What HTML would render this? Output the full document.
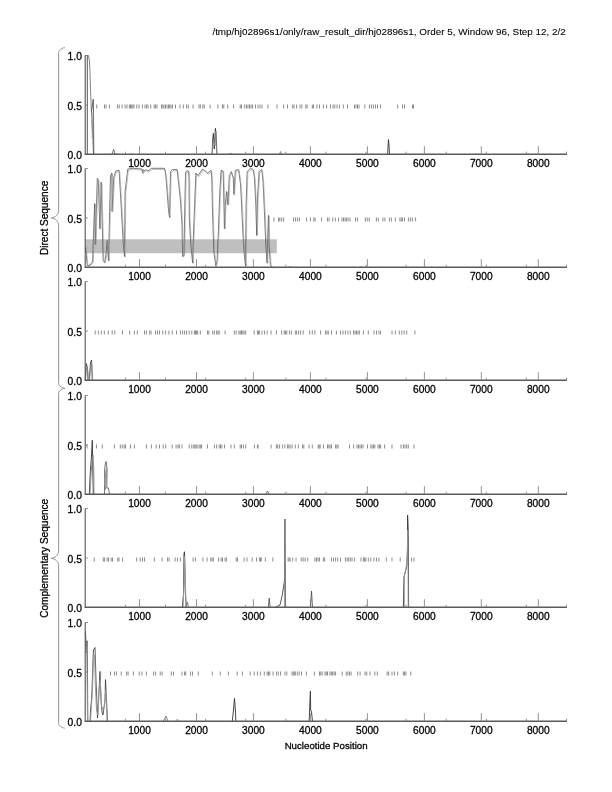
<!DOCTYPE html><html><head><meta charset="utf-8"><style>html,body{margin:0;padding:0;background:#fff;width:612px;height:792px;overflow:hidden}svg{display:block;will-change:transform}text{font-family:"Liberation Sans",sans-serif;fill:#000;stroke:#000;stroke-width:0.28px}</style></head><body>
<svg width="612" height="792" viewBox="0 0 612 792">
<rect width="612" height="792" fill="#fff"/>
<text x="212.4" y="34.9" style="stroke-width:0.08px" font-size="8.8" textLength="353.4" lengthAdjust="spacingAndGlyphs" fill="#000">/tmp/hj02896s1/only/raw_result_dir/hj02896s1, Order 5, Window 96, Step 12, 2/2</text>
<rect x="85" y="239.3" width="191.8" height="13.9" fill="#bfbfbf"/>
<path d="M85.2 55.5 87.3 55.5 87.3 154.5" fill="none" stroke="#444" stroke-width="0.9" stroke-linejoin="round" opacity="1"/>
<path d="M85.2 55.5 88.5 55.5 89.3 60.0 90.0 72.0 90.6 91.8 91.3 109.0 92.0 121.0 92.6 134.0 93.5 154.5" fill="none" stroke="#777" stroke-width="0.9" stroke-linejoin="round" opacity="1"/>
<path d="M91.4 112.0 92.3 106.0 93.3 99.0 93.5 115.0 93.8 154.5" fill="none" stroke="#555" stroke-width="0.9" stroke-linejoin="round" opacity="1"/>
<path d="M91.8 120.0 92.4 138.0 93.0 112.0" fill="none" stroke="#999" stroke-width="0.9" stroke-linejoin="round" opacity="1"/>
<path d="M110.0 154.5 112.3 154.0 113.0 151.0 113.6 149.3 114.3 151.0 114.9 154.0 120.0 154.5" fill="none" stroke="#555" stroke-width="0.8" stroke-linejoin="round" opacity="1"/>
<path d="M210.0 154.5 212.1 154.5 212.6 140.0 213.4 133.3 214.3 149.0 215.4 128.3 216.4 140.0 216.9 154.5 220.0 154.5" fill="none" stroke="#333" stroke-width="0.9" stroke-linejoin="round" opacity="1"/>
<path d="M212.4 154.5 213.0 139.0 214.0 141.0 215.0 146.0 216.0 131.0 216.6 154.5" fill="none" stroke="#888" stroke-width="0.8" stroke-linejoin="round" opacity="1"/>
<path d="M228.0 154.5 230.7 153.3 233.0 154.5" fill="none" stroke="#666" stroke-width="0.7" stroke-linejoin="round" opacity="1"/>
<path d="M278.0 154.5 279.5 154.5 280.5 151.5 281.5 154.5" fill="none" stroke="#666" stroke-width="0.7" stroke-linejoin="round" opacity="1"/>
<path d="M385.0 154.5 387.6 154.5 388.1 145.0 388.5 139.5 389.0 145.0 389.5 154.5" fill="none" stroke="#333" stroke-width="0.9" stroke-linejoin="round" opacity="1"/>
<path d="M85.6 247.2 87.3 265.8 90.0 265.0 92.6 261.8 94.6 203.5 95.3 244.6 97.3 178.3 98.3 179.6 99.9 228.7 101.2 182.2 103.2 260.5 104.6 262.5 105.9 255.2 107.2 240.6 108.5 260.5 110.5 175.6 111.9 173.0 112.1 211.4 113.8 177.0 115.8 171.0 119.1 170.3 121.1 204.8 123.1 240.6 124.5 256.5 125.1 191.5 127.8 169.0 133.7 168.3 141.9 169.0 142.6 173.0 143.3 169.6 144.6 171.0 146.0 169.5 147.5 171.0 149.9 169.8 151.2 168.3 164.5 168.3 165.8 175.6 167.1 191.5 168.5 210.0 169.5 217.4 170.5 171.6 172.4 169.6 177.1 169.6 178.7 183.6 180.6 202.0 182.0 224.7 182.6 256.5 184.0 255.2 184.6 218.0 185.5 173.0 186.6 171.0 188.6 171.0 189.0 178.3 189.3 218.0 190.6 242.0 192.6 263.0 193.2 242.0 194.6 204.8 195.9 173.0 197.9 175.6 199.9 173.0 202.5 169.0 205.2 171.0 207.8 173.0 211.1 170.3 211.8 178.3 212.5 211.4 213.8 251.2 215.8 265.8 217.1 260.5 218.4 231.3 219.8 191.5 221.1 170.3 223.1 171.0 223.7 191.5 224.4 228.7 225.3 204.8 226.6 191.5 228.0 204.8 229.3 175.6 231.3 171.6 233.3 178.3 233.9 194.2 235.3 170.3 238.6 169.6 240.6 184.9 241.9 211.4 243.2 238.0 244.5 257.8 245.6 265.8 246.1 204.8 247.2 171.6 250.5 168.3 253.2 169.6 254.5 178.3 255.8 204.8 256.7 235.3 257.5 198.2 259.1 171.6 261.8 169.6 263.1 182.2 264.4 211.4 265.8 244.6 267.1 263.1 268.4 215.4 269.1 244.6 270.4 264.5 271.7 267.1 274.0 267.5" fill="none" stroke="#444" stroke-width="0.7" stroke-linejoin="round" opacity="1"/>
<path d="M86.3 247.7 88.0 266.3 90.7 265.5 93.3 262.3 95.3 204.0 96.0 245.1 98.0 179.5 99.0 180.8 100.6 229.2 101.9 183.4 103.9 261.0 105.3 263.0 106.6 255.7 107.9 241.1 109.2 261.0 111.2 176.8 112.6 174.2 112.8 211.9 114.5 178.2 116.5 172.2 119.8 171.5 121.8 205.3 123.8 241.1 125.2 257.0 125.8 192.7 128.5 170.2 134.4 169.5 142.6 170.2 143.3 174.2 144.0 170.8 145.3 172.2 146.7 170.7 148.2 172.2 150.6 171.0 151.9 169.5 165.2 169.5 166.5 176.8 167.8 192.7 169.2 210.5 170.2 217.9 171.2 172.8 173.1 170.8 177.8 170.8 179.4 184.8 181.3 202.5 182.7 225.2 183.3 257.0 184.7 255.7 185.3 218.5 186.2 174.2 187.3 172.2 189.3 172.2 189.7 179.5 190.0 218.5 191.3 242.5 193.3 263.5 193.9 242.5 195.3 205.3 196.6 174.2 198.6 176.8 200.6 174.2 203.2 170.2 205.9 172.2 208.5 174.2 211.8 171.5 212.5 179.5 213.2 211.9 214.5 251.7 216.5 266.3 217.8 261.0 219.1 231.8 220.5 192.7 221.8 171.5 223.8 172.2 224.4 192.7 225.1 229.2 226.0 205.3 227.3 192.7 228.7 205.3 230.0 176.8 232.0 172.8 234.0 179.5 234.6 195.4 236.0 171.5 239.3 170.8 241.3 186.1 242.6 211.9 243.9 238.5 245.2 258.3 246.3 266.3 246.8 205.3 247.9 172.8 251.2 169.5 253.9 170.8 255.2 179.5 256.5 205.3 257.4 235.8 258.2 199.4 259.8 172.8 262.5 170.8 263.8 183.4 265.1 211.9 266.5 245.1 267.8 263.6 269.1 215.9 269.8 245.1 271.1 265.0 272.4 267.6 274.7 268.0" fill="none" stroke="#9a9a9a" stroke-width="0.6" stroke-linejoin="round" opacity="1"/>
<path d="M288.0 267.5 290.0 266.5 292.0 267.5" fill="none" stroke="#777" stroke-width="0.6" stroke-linejoin="round" opacity="1"/>
<path d="M359.0 267.5 361.0 266.5 363.0 267.5" fill="none" stroke="#777" stroke-width="0.6" stroke-linejoin="round" opacity="1"/>
<path d="M85.3 380.5 86.3 363.5 87.5 368.1 88.0 380.5 89.2 380.5 90.5 362.0 91.6 360.0 92.3 380.5" fill="none" stroke="#333" stroke-width="0.8" stroke-linejoin="round" opacity="1"/>
<path d="M85.5 380.5 86.5 366.0 87.8 372.0 88.3 380.5 89.5 380.5 90.7 366.0 91.9 364.0 92.5 380.5" fill="none" stroke="#888" stroke-width="0.8" stroke-linejoin="round" opacity="1"/>
<path d="M89.3 494.5 89.7 485.8 90.4 470.3 91.3 459.2 92.3 440.3 92.8 470.0 93.3 494.5" fill="none" stroke="#333" stroke-width="0.9" stroke-linejoin="round" opacity="1"/>
<path d="M90.0 494.5 91.0 475.0 92.0 462.0 93.0 455.0 93.8 470.0 94.0 494.5" fill="none" stroke="#888" stroke-width="0.9" stroke-linejoin="round" opacity="1"/>
<path d="M104.5 494.5 104.6 470.0 105.5 462.0 106.5 461.8 107.0 475.0 106.8 488.0 108.5 488.0 109.5 494.5" fill="none" stroke="#777" stroke-width="1.0" stroke-linejoin="round" opacity="1"/>
<path d="M104.8 485.0 106.0 470.0 105.0 480.0 107.0 468.0 105.5 490.0" fill="none" stroke="#999" stroke-width="1.2" stroke-linejoin="round" opacity="1"/>
<path d="M265.5 494.5 267.6 491.0 269.0 494.5" fill="none" stroke="#555" stroke-width="0.8" stroke-linejoin="round" opacity="1"/>
<path d="M182.3 607.5 183.5 594.5 184.0 553.6 184.5 551.8 185.4 593.6 186.4 607.5" fill="none" stroke="#333" stroke-width="0.9" stroke-linejoin="round" opacity="1"/>
<path d="M183.0 607.5 184.2 580.0 184.6 556.0 185.3 580.0 186.0 607.5" fill="none" stroke="#999" stroke-width="1.0" stroke-linejoin="round" opacity="1"/>
<path d="M186.4 607.5 187.5 602.0 188.5 607.5" fill="none" stroke="#666" stroke-width="0.7" stroke-linejoin="round" opacity="1"/>
<path d="M266.0 607.5 268.3 607.5 269.2 598.2 270.2 607.5" fill="none" stroke="#444" stroke-width="0.8" stroke-linejoin="round" opacity="1"/>
<path d="M274.0 607.5 276.0 607.0 280.0 605.0 282.3 595.0 284.6 580.0 284.8 519.0 285.5 607.5" fill="none" stroke="#444" stroke-width="0.9" stroke-linejoin="round" opacity="1"/>
<path d="M284.9 519.0 284.9 607.5" fill="none" stroke="#888" stroke-width="1.4" stroke-linejoin="round" opacity="1"/>
<path d="M308.0 607.5 310.5 607.5 311.5 591.0 312.5 607.5" fill="none" stroke="#444" stroke-width="0.8" stroke-linejoin="round" opacity="1"/>
<path d="M400.0 607.5 403.4 607.5 404.0 576.6 405.5 571.2 406.9 565.8 407.5 549.6 407.6 515.1 408.4 534.7 408.6 607.5" fill="none" stroke="#333" stroke-width="0.9" stroke-linejoin="round" opacity="1"/>
<path d="M404.3 607.5 404.5 575.0 406.0 569.0 407.2 555.0 407.9 530.0 408.2 607.5" fill="none" stroke="#999" stroke-width="0.9" stroke-linejoin="round" opacity="1"/>
<path d="M85.5 631.4 86.3 652.8 87.0 640.8 87.4 660.0 87.8 721.5 90.0 721.5 90.5 710.0 91.5 700.0 92.0 690.0 93.0 660.0 93.5 650.0 95.0 647.5 96.0 680.0 97.5 718.0 98.5 700.0 100.0 671.5 101.0 700.0 102.0 712.0 103.0 715.0 105.0 700.0 105.5 679.6 106.5 700.0 107.5 721.5" fill="none" stroke="#333" stroke-width="0.8" stroke-linejoin="round" opacity="1"/>
<path d="M85.8 640.0 86.8 655.0 87.5 721.5 90.5 721.5 91.5 705.0 92.5 690.0 93.5 655.0 94.5 655.0 95.5 690.0 96.5 710.0 98.0 715.0 99.0 690.0 100.3 680.0 101.3 705.0 103.0 710.0 104.5 705.0 105.8 690.0 107.0 721.5" fill="none" stroke="#999" stroke-width="0.9" stroke-linejoin="round" opacity="1"/>
<path d="M163.0 721.5 166.1 716.0 168.0 721.5" fill="none" stroke="#555" stroke-width="0.7" stroke-linejoin="round" opacity="1"/>
<path d="M175.5 721.5 177.3 719.0 179.0 721.5" fill="none" stroke="#777" stroke-width="0.6" stroke-linejoin="round" opacity="1"/>
<path d="M230.0 721.5 232.2 721.5 233.3 712.0 234.5 698.3 235.5 712.0 235.8 721.5" fill="none" stroke="#333" stroke-width="0.9" stroke-linejoin="round" opacity="1"/>
<path d="M307.0 721.5 309.2 721.5 309.8 704.0 310.4 691.1 310.7 710.0 311.5 712.0 312.5 721.5" fill="none" stroke="#333" stroke-width="0.9" stroke-linejoin="round" opacity="1"/>
<path d="M96.7 104.5v4M104.5 104.5v4M106.0 104.5v4M109.4 104.5v4M117.6 104.5v4M119.2 104.5v4M122.1 104.5v4M125.1 104.5v4M127.0 104.5v4M129.4 104.5v4M130.5 104.5v4M131.7 104.5v4M132.9 104.5v4M134.0 104.5v4M136.8 104.5v4M139.0 104.5v4M142.4 104.5v4M145.0 104.5v4M146.6 104.5v4M148.0 104.5v4M150.8 104.5v4M154.2 104.5v4M155.5 104.5v4M157.0 104.5v4M161.5 104.5v4M162.8 104.5v4M164.0 104.5v4M165.5 104.5v4M167.0 104.5v4M168.5 104.5v4M169.7 104.5v4M171.0 104.5v4M172.5 104.5v4M175.5 104.5v4M180.0 104.5v4M183.3 104.5v4M186.6 104.5v4M188.3 104.5v4M193.1 104.5v4M199.0 104.5v4M200.3 104.5v4M202.9 104.5v4M204.2 104.5v4M210.1 104.5v4M217.9 104.5v4M222.5 104.5v4M223.8 104.5v4M227.7 104.5v4M233.6 104.5v4M240.2 104.5v4M241.5 104.5v4M244.7 104.5v4M246.5 104.5v4M248.0 104.5v4M249.5 104.5v4M251.0 104.5v4M252.5 104.5v4M255.5 104.5v4M258.0 104.5v4M260.0 104.5v4M262.0 104.5v4M267.9 104.5v4M277.0 104.5v4M283.6 104.5v4M287.5 104.5v4M292.7 104.5v4M294.0 104.5v4M296.6 104.5v4M300.0 104.5v4M301.8 104.5v4M305.8 104.5v4M307.1 104.5v4M312.3 104.5v4M313.5 104.5v4M316.9 104.5v4M319.5 104.5v4M323.4 104.5v4M326.6 104.5v4M330.5 104.5v4M333.1 104.5v4M334.8 104.5v4M337.0 104.5v4M339.4 104.5v4M343.3 104.5v4M347.5 104.5v4M354.5 104.5v4M356.0 104.5v4M357.5 104.5v4M359.0 104.5v4M364.9 104.5v4M369.4 104.5v4M371.4 104.5v4M373.4 104.5v4M375.5 104.5v4M377.5 104.5v4M380.6 104.5v4M397.7 104.5v4M402.5 104.5v4M404.5 104.5v4M412.5 104.5v4M413.5 104.5v4" stroke="#8c8c8c" stroke-width="1"/>
<path d="M273.9 217.5v4M278.5 217.5v4M279.8 217.5v4M281.7 217.5v4M283.7 217.5v4M293.5 217.5v4M295.5 217.5v4M297.4 217.5v4M299.4 217.5v4M306.6 217.5v4M310.5 217.5v4M313.8 217.5v4M315.1 217.5v4M321.6 217.5v4M327.5 217.5v4M329.0 217.5v4M332.7 217.5v4M335.3 217.5v4M338.6 217.5v4M342.0 217.5v4M343.5 217.5v4M345.0 217.5v4M346.4 217.5v4M348.0 217.5v4M350.0 217.5v4M355.5 217.5v4M357.4 217.5v4M365.3 217.5v4M367.2 217.5v4M369.2 217.5v4M376.4 217.5v4M378.3 217.5v4M382.9 217.5v4M384.9 217.5v4M389.4 217.5v4M391.4 217.5v4M395.3 217.5v4M399.9 217.5v4M401.2 217.5v4M402.5 217.5v4M404.5 217.5v4M408.4 217.5v4M410.4 217.5v4M412.3 217.5v4M415.6 217.5v4" stroke="#8c8c8c" stroke-width="1"/>
<path d="M95.2 330.5v4M98.3 330.5v4M101.3 330.5v4M104.3 330.5v4M108.3 330.5v4M112.2 330.5v4M114.8 330.5v4M122.5 330.5v4M129.7 330.5v4M134.4 330.5v4M137.3 330.5v4M144.5 330.5v4M146.4 330.5v4M149.7 330.5v4M151.0 330.5v4M155.6 330.5v4M157.5 330.5v4M159.5 330.5v4M162.8 330.5v4M165.7 330.5v4M168.9 330.5v4M172.2 330.5v4M176.5 330.5v4M180.4 330.5v4M182.6 330.5v4M184.6 330.5v4M186.6 330.5v4M189.2 330.5v4M191.8 330.5v4M194.4 330.5v4M195.5 330.5v4M196.6 330.5v4M197.7 330.5v4M200.3 330.5v4M207.5 330.5v4M208.8 330.5v4M212.7 330.5v4M214.4 330.5v4M216.6 330.5v4M218.0 330.5v4M219.2 330.5v4M225.1 330.5v4M234.3 330.5v4M236.2 330.5v4M238.9 330.5v4M240.2 330.5v4M241.5 330.5v4M242.8 330.5v4M244.1 330.5v4M245.7 330.5v4M254.2 330.5v4M257.4 330.5v4M258.4 330.5v4M259.4 330.5v4M262.0 330.5v4M264.6 330.5v4M267.2 330.5v4M271.1 330.5v4M276.4 330.5v4M281.6 330.5v4M284.2 330.5v4M285.5 330.5v4M286.8 330.5v4M289.4 330.5v4M291.4 330.5v4M295.3 330.5v4M296.6 330.5v4M298.6 330.5v4M300.6 330.5v4M303.2 330.5v4M309.7 330.5v4M312.3 330.5v4M314.9 330.5v4M320.6 330.5v4M325.5 330.5v4M327.0 330.5v4M328.3 330.5v4M331.5 330.5v4M336.4 330.5v4M340.5 330.5v4M343.0 330.5v4M345.4 330.5v4M347.9 330.5v4M350.3 330.5v4M353.6 330.5v4M355.0 330.5v4M356.5 330.5v4M358.0 330.5v4M359.3 330.5v4M363.4 330.5v4M368.3 330.5v4M374.0 330.5v4M376.5 330.5v4M378.9 330.5v4M380.6 330.5v4M392.0 330.5v4M395.3 330.5v4M399.3 330.5v4M401.8 330.5v4M404.2 330.5v4M406.7 330.5v4M414.9 330.5v4" stroke="#8c8c8c" stroke-width="1"/>
<path d="M87.0 444.5v4M96.5 444.5v4M102.3 444.5v4M114.4 444.5v4M120.3 444.5v4M122.3 444.5v4M124.2 444.5v4M125.5 444.5v4M130.5 444.5v4M134.4 444.5v4M146.4 444.5v4M151.4 444.5v4M156.2 444.5v4M159.5 444.5v4M163.2 444.5v4M165.7 444.5v4M172.2 444.5v4M176.1 444.5v4M178.1 444.5v4M179.4 444.5v4M182.0 444.5v4M189.2 444.5v4M191.8 444.5v4M193.8 444.5v4M194.9 444.5v4M196.0 444.5v4M197.0 444.5v4M199.0 444.5v4M200.3 444.5v4M201.6 444.5v4M207.5 444.5v4M214.4 444.5v4M216.6 444.5v4M219.2 444.5v4M220.5 444.5v4M221.9 444.5v4M224.5 444.5v4M231.0 444.5v4M234.3 444.5v4M240.2 444.5v4M241.5 444.5v4M243.4 444.5v4M245.7 444.5v4M254.4 444.5v4M257.4 444.5v4M258.1 444.5v4M271.1 444.5v4M276.4 444.5v4M277.7 444.5v4M279.6 444.5v4M282.6 444.5v4M284.9 444.5v4M287.5 444.5v4M288.8 444.5v4M290.1 444.5v4M292.1 444.5v4M295.3 444.5v4M298.3 444.5v4M302.5 444.5v4M303.8 444.5v4M309.0 444.5v4M312.3 444.5v4M318.2 444.5v4M319.2 444.5v4M320.2 444.5v4M323.4 444.5v4M327.5 444.5v4M328.8 444.5v4M330.1 444.5v4M331.5 444.5v4M335.6 444.5v4M336.9 444.5v4M338.1 444.5v4M349.5 444.5v4M353.6 444.5v4M357.0 444.5v4M358.5 444.5v4M360.0 444.5v4M361.5 444.5v4M363.0 444.5v4M367.5 444.5v4M370.8 444.5v4M372.1 444.5v4M373.5 444.5v4M374.8 444.5v4M378.1 444.5v4M379.4 444.5v4M380.6 444.5v4M384.6 444.5v4M392.0 444.5v4M401.0 444.5v4M403.4 444.5v4M405.0 444.5v4M406.7 444.5v4M408.3 444.5v4M414.0 444.5v4" stroke="#8c8c8c" stroke-width="1"/>
<path d="M94.2 557.5v4M103.3 557.5v4M104.6 557.5v4M107.2 557.5v4M108.5 557.5v4M111.1 557.5v4M112.5 557.5v4M117.7 557.5v4M119.0 557.5v4M122.6 557.5v4M136.6 557.5v4M140.2 557.5v4M142.5 557.5v4M144.5 557.5v4M154.3 557.5v4M162.1 557.5v4M167.6 557.5v4M169.1 557.5v4M175.2 557.5v4M177.4 557.5v4M180.4 557.5v4M193.1 557.5v4M195.4 557.5v4M202.9 557.5v4M207.1 557.5v4M210.8 557.5v4M212.1 557.5v4M213.4 557.5v4M218.6 557.5v4M221.2 557.5v4M222.5 557.5v4M225.1 557.5v4M226.4 557.5v4M236.2 557.5v4M237.5 557.5v4M244.1 557.5v4M247.0 557.5v4M252.2 557.5v4M256.5 557.5v4M259.4 557.5v4M260.4 557.5v4M261.3 557.5v4M265.3 557.5v4M272.8 557.5v4M288.1 557.5v4M289.1 557.5v4M290.1 557.5v4M292.7 557.5v4M296.0 557.5v4M301.2 557.5v4M303.2 557.5v4M305.1 557.5v4M307.7 557.5v4M314.9 557.5v4M316.5 557.5v4M318.0 557.5v4M319.5 557.5v4M323.4 557.5v4M324.7 557.5v4M331.5 557.5v4M333.5 557.5v4M335.6 557.5v4M337.7 557.5v4M340.5 557.5v4M345.4 557.5v4M347.1 557.5v4M348.7 557.5v4M350.3 557.5v4M352.0 557.5v4M354.4 557.5v4M361.0 557.5v4M363.4 557.5v4M364.6 557.5v4M365.8 557.5v4M368.3 557.5v4M370.8 557.5v4M374.0 557.5v4M376.5 557.5v4M378.9 557.5v4M386.3 557.5v4M392.0 557.5v4M400.2 557.5v4M411.6 557.5v4M414.0 557.5v4" stroke="#8c8c8c" stroke-width="1"/>
<path d="M100.7 671.5v4M110.5 671.5v4M114.4 671.5v4M116.4 671.5v4M121.3 671.5v4M126.6 671.5v4M128.1 671.5v4M133.4 671.5v4M139.2 671.5v4M141.9 671.5v4M146.4 671.5v4M153.6 671.5v4M155.6 671.5v4M160.2 671.5v4M162.1 671.5v4M171.3 671.5v4M173.5 671.5v4M182.0 671.5v4M184.6 671.5v4M185.7 671.5v4M190.5 671.5v4M192.5 671.5v4M198.3 671.5v4M212.3 671.5v4M220.2 671.5v4M228.4 671.5v4M237.2 671.5v4M242.4 671.5v4M250.2 671.5v4M254.2 671.5v4M257.4 671.5v4M260.4 671.5v4M264.3 671.5v4M267.2 671.5v4M268.5 671.5v4M269.8 671.5v4M273.1 671.5v4M276.4 671.5v4M278.3 671.5v4M280.6 671.5v4M284.9 671.5v4M286.8 671.5v4M292.1 671.5v4M293.2 671.5v4M294.3 671.5v4M295.3 671.5v4M297.3 671.5v4M299.2 671.5v4M301.5 671.5v4M306.4 671.5v4M314.3 671.5v4M319.5 671.5v4M320.8 671.5v4M322.1 671.5v4M325.0 671.5v4M326.3 671.5v4M327.5 671.5v4M329.9 671.5v4M331.3 671.5v4M332.7 671.5v4M334.1 671.5v4M335.6 671.5v4M342.2 671.5v4M346.2 671.5v4M347.8 671.5v4M349.5 671.5v4M351.1 671.5v4M357.7 671.5v4M360.1 671.5v4M365.0 671.5v4M366.7 671.5v4M370.0 671.5v4M374.8 671.5v4M377.3 671.5v4M387.1 671.5v4M388.7 671.5v4M392.0 671.5v4M394.4 671.5v4M397.7 671.5v4M403.4 671.5v4M404.6 671.5v4M405.9 671.5v4M410.8 671.5v4" stroke="#8c8c8c" stroke-width="1"/>
<path d="M85.2 55.5V154.5" fill="none" stroke="#555" stroke-width="1.1"/>
<path d="M84.7 154.25H567" fill="none" stroke="#5a5a5a" stroke-width="1.3"/>
<path d="M85.2 55.5H88M85.2 105.0H88" stroke="#777" stroke-width="0.8"/>
<path d="M139.5 154.5V146.2M196.5 154.5V146.2M253.4 154.5V146.2M310.4 154.5V146.2M367.4 154.5V146.2M424.4 154.5V146.2M481.3 154.5V146.2M538.3 154.5V146.2M125.4 154.5V151.7M165.5 154.5V151.7M205.6 154.5V151.7M245.7 154.5V151.7M285.8 154.5V151.7M325.9 154.5V151.7M366.0 154.5V151.7M406.1 154.5V151.7M446.2 154.5V151.7M486.3 154.5V151.7M526.4 154.5V151.7M566.5 154.5V151.7" stroke="#777" stroke-width="0.8"/>
<text x="81.9" y="60.1" font-size="10.3" text-anchor="end">1.0</text>
<text x="81.9" y="109.6" font-size="10.3" text-anchor="end">0.5</text>
<text x="81.9" y="159.1" font-size="10.3" text-anchor="end">0.0</text>
<text x="139.5" y="167.0" font-size="10.2" text-anchor="middle">1000</text>
<text x="196.5" y="167.0" font-size="10.2" text-anchor="middle">2000</text>
<text x="253.4" y="167.0" font-size="10.2" text-anchor="middle">3000</text>
<text x="310.4" y="167.0" font-size="10.2" text-anchor="middle">4000</text>
<text x="367.4" y="167.0" font-size="10.2" text-anchor="middle">5000</text>
<text x="424.4" y="167.0" font-size="10.2" text-anchor="middle">6000</text>
<text x="481.3" y="167.0" font-size="10.2" text-anchor="middle">7000</text>
<text x="538.3" y="167.0" font-size="10.2" text-anchor="middle">8000</text>
<path d="M85.2 168.5V267.5" fill="none" stroke="#555" stroke-width="1.1"/>
<path d="M84.7 267.25H567" fill="none" stroke="#5a5a5a" stroke-width="1.3"/>
<path d="M85.2 168.5H88M85.2 218.0H88" stroke="#777" stroke-width="0.8"/>
<path d="M139.5 267.5V259.2M196.5 267.5V259.2M253.4 267.5V259.2M310.4 267.5V259.2M367.4 267.5V259.2M424.4 267.5V259.2M481.3 267.5V259.2M538.3 267.5V259.2M125.4 267.5V264.7M165.5 267.5V264.7M205.6 267.5V264.7M245.7 267.5V264.7M285.8 267.5V264.7M325.9 267.5V264.7M366.0 267.5V264.7M406.1 267.5V264.7M446.2 267.5V264.7M486.3 267.5V264.7M526.4 267.5V264.7M566.5 267.5V264.7" stroke="#777" stroke-width="0.8"/>
<text x="81.9" y="173.1" font-size="10.3" text-anchor="end">1.0</text>
<text x="81.9" y="222.6" font-size="10.3" text-anchor="end">0.5</text>
<text x="81.9" y="272.1" font-size="10.3" text-anchor="end">0.0</text>
<text x="139.5" y="280.0" font-size="10.2" text-anchor="middle">1000</text>
<text x="196.5" y="280.0" font-size="10.2" text-anchor="middle">2000</text>
<text x="253.4" y="280.0" font-size="10.2" text-anchor="middle">3000</text>
<text x="310.4" y="280.0" font-size="10.2" text-anchor="middle">4000</text>
<text x="367.4" y="280.0" font-size="10.2" text-anchor="middle">5000</text>
<text x="424.4" y="280.0" font-size="10.2" text-anchor="middle">6000</text>
<text x="481.3" y="280.0" font-size="10.2" text-anchor="middle">7000</text>
<text x="538.3" y="280.0" font-size="10.2" text-anchor="middle">8000</text>
<path d="M85.2 281.5V380.5" fill="none" stroke="#555" stroke-width="1.1"/>
<path d="M84.7 380.25H567" fill="none" stroke="#5a5a5a" stroke-width="1.3"/>
<path d="M85.2 281.5H88M85.2 331.0H88" stroke="#777" stroke-width="0.8"/>
<path d="M139.5 380.5V372.2M196.5 380.5V372.2M253.4 380.5V372.2M310.4 380.5V372.2M367.4 380.5V372.2M424.4 380.5V372.2M481.3 380.5V372.2M538.3 380.5V372.2M125.4 380.5V377.7M165.5 380.5V377.7M205.6 380.5V377.7M245.7 380.5V377.7M285.8 380.5V377.7M325.9 380.5V377.7M366.0 380.5V377.7M406.1 380.5V377.7M446.2 380.5V377.7M486.3 380.5V377.7M526.4 380.5V377.7M566.5 380.5V377.7" stroke="#777" stroke-width="0.8"/>
<text x="81.9" y="286.1" font-size="10.3" text-anchor="end">1.0</text>
<text x="81.9" y="335.6" font-size="10.3" text-anchor="end">0.5</text>
<text x="81.9" y="385.1" font-size="10.3" text-anchor="end">0.0</text>
<text x="139.5" y="393.0" font-size="10.2" text-anchor="middle">1000</text>
<text x="196.5" y="393.0" font-size="10.2" text-anchor="middle">2000</text>
<text x="253.4" y="393.0" font-size="10.2" text-anchor="middle">3000</text>
<text x="310.4" y="393.0" font-size="10.2" text-anchor="middle">4000</text>
<text x="367.4" y="393.0" font-size="10.2" text-anchor="middle">5000</text>
<text x="424.4" y="393.0" font-size="10.2" text-anchor="middle">6000</text>
<text x="481.3" y="393.0" font-size="10.2" text-anchor="middle">7000</text>
<text x="538.3" y="393.0" font-size="10.2" text-anchor="middle">8000</text>
<path d="M85.2 395.5V494.5" fill="none" stroke="#555" stroke-width="1.1"/>
<path d="M84.7 494.25H567" fill="none" stroke="#5a5a5a" stroke-width="1.3"/>
<path d="M85.2 395.5H88M85.2 445.0H88" stroke="#777" stroke-width="0.8"/>
<path d="M139.5 494.5V486.2M196.5 494.5V486.2M253.4 494.5V486.2M310.4 494.5V486.2M367.4 494.5V486.2M424.4 494.5V486.2M481.3 494.5V486.2M538.3 494.5V486.2M125.4 494.5V491.7M165.5 494.5V491.7M205.6 494.5V491.7M245.7 494.5V491.7M285.8 494.5V491.7M325.9 494.5V491.7M366.0 494.5V491.7M406.1 494.5V491.7M446.2 494.5V491.7M486.3 494.5V491.7M526.4 494.5V491.7M566.5 494.5V491.7" stroke="#777" stroke-width="0.8"/>
<text x="81.9" y="400.1" font-size="10.3" text-anchor="end">1.0</text>
<text x="81.9" y="449.6" font-size="10.3" text-anchor="end">0.5</text>
<text x="81.9" y="499.1" font-size="10.3" text-anchor="end">0.0</text>
<text x="139.5" y="507.0" font-size="10.2" text-anchor="middle">1000</text>
<text x="196.5" y="507.0" font-size="10.2" text-anchor="middle">2000</text>
<text x="253.4" y="507.0" font-size="10.2" text-anchor="middle">3000</text>
<text x="310.4" y="507.0" font-size="10.2" text-anchor="middle">4000</text>
<text x="367.4" y="507.0" font-size="10.2" text-anchor="middle">5000</text>
<text x="424.4" y="507.0" font-size="10.2" text-anchor="middle">6000</text>
<text x="481.3" y="507.0" font-size="10.2" text-anchor="middle">7000</text>
<text x="538.3" y="507.0" font-size="10.2" text-anchor="middle">8000</text>
<path d="M85.2 508.5V607.5" fill="none" stroke="#555" stroke-width="1.1"/>
<path d="M84.7 607.25H567" fill="none" stroke="#5a5a5a" stroke-width="1.3"/>
<path d="M85.2 508.5H88M85.2 558.0H88" stroke="#777" stroke-width="0.8"/>
<path d="M139.5 607.5V599.2M196.5 607.5V599.2M253.4 607.5V599.2M310.4 607.5V599.2M367.4 607.5V599.2M424.4 607.5V599.2M481.3 607.5V599.2M538.3 607.5V599.2M125.4 607.5V604.7M165.5 607.5V604.7M205.6 607.5V604.7M245.7 607.5V604.7M285.8 607.5V604.7M325.9 607.5V604.7M366.0 607.5V604.7M406.1 607.5V604.7M446.2 607.5V604.7M486.3 607.5V604.7M526.4 607.5V604.7M566.5 607.5V604.7" stroke="#777" stroke-width="0.8"/>
<text x="81.9" y="513.1" font-size="10.3" text-anchor="end">1.0</text>
<text x="81.9" y="562.6" font-size="10.3" text-anchor="end">0.5</text>
<text x="81.9" y="612.1" font-size="10.3" text-anchor="end">0.0</text>
<text x="139.5" y="620.0" font-size="10.2" text-anchor="middle">1000</text>
<text x="196.5" y="620.0" font-size="10.2" text-anchor="middle">2000</text>
<text x="253.4" y="620.0" font-size="10.2" text-anchor="middle">3000</text>
<text x="310.4" y="620.0" font-size="10.2" text-anchor="middle">4000</text>
<text x="367.4" y="620.0" font-size="10.2" text-anchor="middle">5000</text>
<text x="424.4" y="620.0" font-size="10.2" text-anchor="middle">6000</text>
<text x="481.3" y="620.0" font-size="10.2" text-anchor="middle">7000</text>
<text x="538.3" y="620.0" font-size="10.2" text-anchor="middle">8000</text>
<path d="M85.2 622.5V721.5" fill="none" stroke="#555" stroke-width="1.1"/>
<path d="M84.7 721.25H567" fill="none" stroke="#5a5a5a" stroke-width="1.3"/>
<path d="M85.2 622.5H88M85.2 672.0H88" stroke="#777" stroke-width="0.8"/>
<path d="M139.5 721.5V713.2M196.5 721.5V713.2M253.4 721.5V713.2M310.4 721.5V713.2M367.4 721.5V713.2M424.4 721.5V713.2M481.3 721.5V713.2M538.3 721.5V713.2M125.4 721.5V718.7M165.5 721.5V718.7M205.6 721.5V718.7M245.7 721.5V718.7M285.8 721.5V718.7M325.9 721.5V718.7M366.0 721.5V718.7M406.1 721.5V718.7M446.2 721.5V718.7M486.3 721.5V718.7M526.4 721.5V718.7M566.5 721.5V718.7" stroke="#777" stroke-width="0.8"/>
<text x="81.9" y="627.1" font-size="10.3" text-anchor="end">1.0</text>
<text x="81.9" y="676.6" font-size="10.3" text-anchor="end">0.5</text>
<text x="81.9" y="726.1" font-size="10.3" text-anchor="end">0.0</text>
<text x="139.5" y="734.0" font-size="10.2" text-anchor="middle">1000</text>
<text x="196.5" y="734.0" font-size="10.2" text-anchor="middle">2000</text>
<text x="253.4" y="734.0" font-size="10.2" text-anchor="middle">3000</text>
<text x="310.4" y="734.0" font-size="10.2" text-anchor="middle">4000</text>
<text x="367.4" y="734.0" font-size="10.2" text-anchor="middle">5000</text>
<text x="424.4" y="734.0" font-size="10.2" text-anchor="middle">6000</text>
<text x="481.3" y="734.0" font-size="10.2" text-anchor="middle">7000</text>
<text x="538.3" y="734.0" font-size="10.2" text-anchor="middle">8000</text>
<path d="M64.8 47.6C61 48.1 58.6 50.6 58.6 53.1V210.4C58.6 214.9 55 217.6 51.2 217.9C55 218.2 58.6 220.9 58.6 225.4V382.8C58.6 385.3 61 387.8 64.8 388.3" fill="none" stroke="#888" stroke-width="0.9"/>
<path d="M64.8 388.3C61 388.8 58.6 391.3 58.6 393.8V550.8C58.6 555.3 55 558.0 51.2 558.3C55 558.6 58.6 561.3 58.6 565.8V722.7C58.6 725.2 61 727.7 64.8 728.2" fill="none" stroke="#888" stroke-width="0.9"/>
<text transform="translate(48.2 217.9) rotate(-90)" font-size="10.05" text-anchor="middle">Direct Sequence</text>
<text transform="translate(48.2 558.3) rotate(-90)" font-size="10.05" text-anchor="middle">Complementary Sequence</text>
<text x="326.1" y="748.9" font-size="9.7" text-anchor="middle">Nucleotide Position</text>
</svg></body></html>
